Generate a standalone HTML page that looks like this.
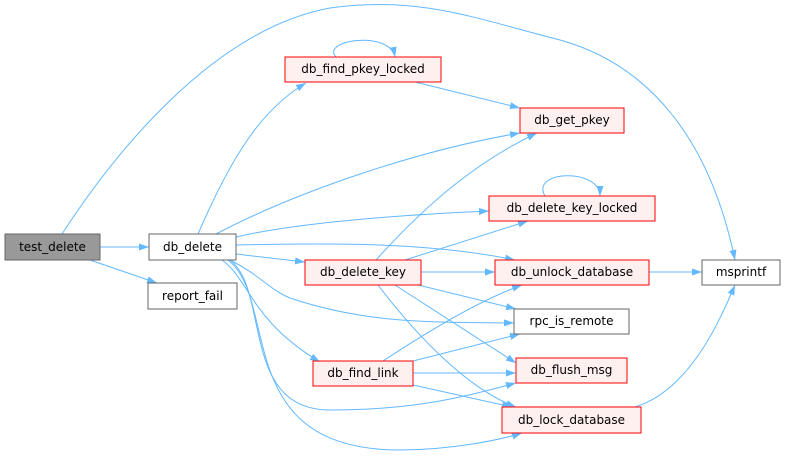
<!DOCTYPE html>
<html><head><meta charset="utf-8"><style>
html,body{margin:0;padding:0;background:#fff;width:785px;height:456px;overflow:hidden}
text{font-family:"DejaVu Sans","Liberation Sans",sans-serif;font-size:12px;fill:#000}
</style></head><body>
<svg width="785" height="456" viewBox="0 0 785 456" xmlns="http://www.w3.org/2000/svg">
<defs><marker id="a" markerWidth="11" markerHeight="8" refX="10" refY="3.5" orient="auto" markerUnits="userSpaceOnUse"><path d="M0,0 L10,3.5 L0,7 z" fill="#63b8ff"/></marker></defs>
<g fill="none" stroke="#63b8ff" stroke-width="1" marker-end="url(#a)">
<path d="M100,247 L149,247"/>
<path d="M90,260 L157,283"/>
<path d="M62,234 C110,160 210,30 330,8 C420,-5 480,20 560,40 C650,65 710,140 735,260"/>
<path d="M198,234 C230,160 260,110 306,83"/>
<path d="M216,234 C300,190 420,150 520,133"/>
<path d="M236,237 C300,222 400,215 489,211"/>
<path d="M236,245 C330,243 430,242 515,260"/>
<path d="M236,254 L305,262"/>
<path d="M230,260 C260,275 270,290 290,298 C370,325 440,322 514,323"/>
<path d="M222,260 C250,280 250,320 320,362"/>
<path d="M230,260 C270,290 240,410 330,410 C420,410 470,395 516,383"/>
<path d="M228,260 C280,300 230,450 400,450 C450,450 500,440 522,433"/>
<path d="M336,57 C320,40 390,30 395,57"/>
<path d="M415,82 L520,108"/>
<path d="M545,196 C530,170 600,168 600,196"/>
<path d="M376,260 C430,200 480,160 537,133"/>
<path d="M405,260 L528,221"/>
<path d="M421,272 L495,272"/>
<path d="M418,285 L516,309"/>
<path d="M395,285 L516,363"/>
<path d="M378,285 C420,340 470,390 516,407"/>
<path d="M383,361 C430,330 480,300 522,285"/>
<path d="M413,361 L520,334"/>
<path d="M413,373 L516,373"/>
<path d="M413,385 L512,407"/>
<path d="M649,272 L702,272"/>
<path d="M635,407 C690,390 720,320 735,285"/>
</g>
<g stroke-width="1">
<rect x="5" y="234" width="95" height="26" fill="#999" stroke="#666"/>
<rect x="149" y="234" width="87" height="26" fill="#fff" stroke="#666"/>
<rect x="148" y="283" width="89" height="26" fill="#fff" stroke="#666"/>
<rect x="285" y="57" width="156" height="25" fill="#fff0f0" stroke="#f00"/>
<rect x="520" y="108" width="104" height="25" fill="#fff0f0" stroke="#f00"/>
<rect x="489" y="196" width="166" height="25" fill="#fff0f0" stroke="#f00"/>
<rect x="305" y="260" width="116" height="25" fill="#fff0f0" stroke="#f00"/>
<rect x="495" y="260" width="154" height="25" fill="#fff0f0" stroke="#f00"/>
<rect x="702" y="260" width="78" height="25" fill="#fff" stroke="#666"/>
<rect x="514" y="309" width="115" height="25" fill="#fff" stroke="#666"/>
<rect x="313" y="361" width="100" height="25" fill="#fff0f0" stroke="#f00"/>
<rect x="516" y="358" width="111" height="25" fill="#fff0f0" stroke="#f00"/>
<rect x="502" y="407" width="139" height="26" fill="#fff0f0" stroke="#f00"/>
</g>
<g text-anchor="middle">
<text x="52.5" y="251">test_delete</text>
<text x="192.5" y="251">db_delete</text>
<text x="192.5" y="300">report_fail</text>
<text x="363" y="73">db_find_pkey_locked</text>
<text x="572" y="124">db_get_pkey</text>
<text x="572" y="212">db_delete_key_locked</text>
<text x="363" y="276">db_delete_key</text>
<text x="572" y="276">db_unlock_database</text>
<text x="741" y="276">msprintf</text>
<text x="571.5" y="325">rpc_is_remote</text>
<text x="363" y="377">db_find_link</text>
<text x="571.5" y="374">db_flush_msg</text>
<text x="571.5" y="424">db_lock_database</text>
</g>
</svg>
</body></html>
